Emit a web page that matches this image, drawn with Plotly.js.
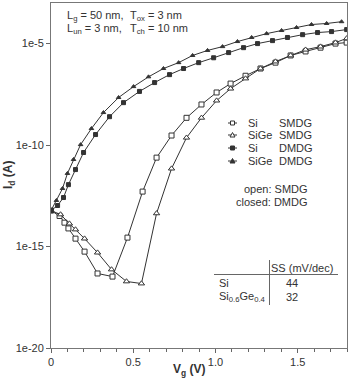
<!DOCTYPE html>
<html>
<head>
<meta charset="utf-8">
<script src="https://cdn.plot.ly/plotly-3.0.1.min.js"></script>
<style>
  body { margin: 0; background: #fff; }
  #chart { width: 350px; height: 379px; }
</style>
</head>
<body>
<div id="chart"></div>
<script>
// Gate voltage (V) and drain current (A)
const vSiSMDG = [0, 0.052, 0.082, 0.106, 0.149, 0.204, 0.283, 0.374, 0.465, 0.557, 0.642, 0.733, 0.824, 0.915, 1.007, 1.092, 1.183, 1.274, 1.365, 1.457, 1.548, 1.639, 1.730, 1.798];
const iSiSMDG = [5.9e-14, 3.2e-14, 1.5e-14, 7.8e-15, 2.45e-15, 5.6e-16, 4.7e-17, 3.3e-17, 2.75e-15, 5.1e-13, 2.4e-11, 2.95e-10, 2.2e-9, 1.0e-8, 3.9e-8, 1.07e-7, 2.6e-7, 5.9e-7, 1.15e-6, 2.6e-6, 4.1e-6, 6.3e-6, 1.0e-5, 1.12e-5];

const vSiGeSMDG = [0, 0.058, 0.112, 0.149, 0.204, 0.283, 0.368, 0.459, 0.550, 0.642, 0.733, 0.824, 0.915, 1.007, 1.092, 1.183, 1.274, 1.365, 1.457, 1.548, 1.639, 1.730, 1.798];
const iSiGeSMDG = [5.9e-14, 3.8e-14, 1.35e-14, 6.9e-15, 2.45e-15, 5.0e-16, 7.4e-17, 1.9e-17, 1.5e-17, 4.3e-14, 6.9e-12, 2.3e-10, 2.2e-9, 1.55e-8, 6.0e-8, 1.9e-7, 5.9e-7, 1.3e-6, 2.6e-6, 5.0e-6, 7.1e-6, 1.12e-5, 1.8e-5];

const vSiDMDG = [0, 0.040, 0.076, 0.106, 0.149, 0.198, 0.271, 0.356, 0.441, 0.538, 0.630, 0.721, 0.806, 0.898, 0.989, 1.080, 1.171, 1.256, 1.347, 1.438, 1.530, 1.621, 1.706, 1.798];
const iSiDMDG = [5.9e-14, 1.05e-13, 2.6e-13, 1.12e-12, 6.2e-12, 4.3e-11, 3.3e-10, 2.5e-9, 1.23e-8, 4.4e-8, 1.2e-7, 2.95e-7, 5.9e-7, 1.15e-6, 2.0e-6, 3.6e-6, 6.3e-6, 1.0e-5, 1.4e-5, 2.0e-5, 2.75e-5, 3.5e-5, 3.9e-5, 4.9e-5];

const vSiGeDMDG = [0, 0.033, 0.070, 0.100, 0.137, 0.180, 0.246, 0.319, 0.411, 0.502, 0.593, 0.684, 0.776, 0.861, 0.952, 1.043, 1.134, 1.220, 1.311, 1.402, 1.493, 1.584, 1.676, 1.767];
const iSiGeDMDG = [5.9e-14, 1.86e-13, 7.2e-13, 4.0e-12, 1.95e-11, 1.05e-10, 6.5e-10, 4.0e-9, 2.2e-8, 7.6e-8, 2.3e-7, 5.9e-7, 1.15e-6, 2.6e-6, 4.6e-6, 7.1e-6, 1.26e-5, 2.0e-5, 3.1e-5, 4.4e-5, 6.2e-5, 8.7e-5, 9.8e-5, 1.2e-4];

const yTickVals = [1e-20, 1e-15, 1e-10, 1e-5];
const yTickText = ['1e-20', '1e-15', '1e-10', '1e-5'];
const xTickVals = [0, 0.5, 1.0, 1.5];
const xTickText = ['0', '0.5', '1.0', '1.5'];

const legendNames = ['Si', 'SiGe', 'Si', 'SiGe'];
const legendTypes = ['SMDG', 'SMDG', 'DMDG', 'DMDG'];
const ssMaterials = ['Si', 'Si<sub>0.6</sub>Ge<sub>0.4</sub>'];
const ssValues = ['44', '32'];

const ink = '#333';
const font = 'Liberation Sans, Arial, sans-serif';

// plot area in pixels, used to place the annotations
const L = 51, T = 3, W = 296, H = 345;
const px = x => (x - L) / W;
const py = y => (T + H - y) / H;

// open symbols: white fill with a dark outline
function curve(x, y, symbol, open, size) {
    return {
        x: x, y: y, type: 'scatter', mode: 'lines+markers',
        line: { color: ink, width: 1 },
        marker: { symbol: symbol, size: size, color: open ? '#fff' : ink,
                  line: { color: ink, width: 1 } },
        showlegend: false, hoverinfo: 'skip'
    };
}

const traces = [
    curve(vSiSMDG, iSiSMDG, 'square', true, 5),
    curve(vSiGeSMDG, iSiGeSMDG, 'triangle-up', true, 5.5),
    curve(vSiDMDG, iSiDMDG, 'square', false, 4),
    curve(vSiGeDMDG, iSiGeDMDG, 'triangle-up', false, 4)
];

const annotations = [];
const shapes = [];
function text(t, x, y, anchor, size) {
    annotations.push({ text: t, x: px(x), y: py(y), xref: 'paper', yref: 'paper',
        xanchor: anchor, yanchor: 'middle', showarrow: false,
        font: { family: font, size: size || 11, color: ink } });
}

// device parameters
text('L<sub>g</sub> = 50 nm,', 65, 16, 'left');
text('T<sub>ox</sub> = 3 nm', 128, 16, 'left');
text('L<sub>un</sub> = 3 nm,', 65, 29, 'left');
text('T<sub>ch</sub> = 10 nm', 128, 29, 'left');

// hand-made legend
const rowY = [123, 135, 148, 161];
rowY.forEach((y, i) => {
    shapes.push({ type: 'line', xref: 'paper', yref: 'paper', x0: px(228), x1: px(237), y0: py(y), y1: py(y),
        line: { color: ink, width: 1 } });
    const fill = i < 2 ? '#fff' : ink;
    if (i % 2 === 0) {
        shapes.push({ type: 'rect', xref: 'paper', yref: 'paper', x0: px(230.5), x1: px(234.5),
            y0: py(y + 2), y1: py(y - 2), fillcolor: fill, line: { color: ink, width: 1 } });
    } else {
        shapes.push({ type: 'path', xref: 'paper', yref: 'paper',
            path: `M${px(230)},${py(y + 2)} L${px(235)},${py(y + 2)} L${px(232.5)},${py(y - 2.5)} Z`,
            fillcolor: fill, line: { color: ink, width: 1 } });
    }
    text(legendNames[i], 246, y, 'left');
    text(legendTypes[i], 277, y, 'left');
});

text('open: SMDG', 310, 189, 'right');
text('closed: DMDG', 310, 202, 'right');

// subthreshold swing table
text('SS (mV/dec)', 269, 268, 'left');
ssMaterials.forEach((m, i) => {
    text(m, 217, 283 + i * 14, 'left');
    text(ssValues[i], 292, 283 + i * 14, 'center');
});
shapes.push({ type: 'line', xref: 'paper', yref: 'paper', x0: px(214), x1: px(338), y0: py(274.5), y1: py(274.5),
    line: { color: '#666', width: 1 } });
shapes.push({ type: 'line', xref: 'paper', yref: 'paper', x0: px(269.5), x1: px(269.5), y0: py(260), y1: py(305),
    line: { color: '#666', width: 1 } });

// axis titles
annotations.push({ text: '<b>I<sub>d</sub> (A)</b>', x: px(9), y: py(175), xref: 'paper', yref: 'paper',
    textangle: -90, showarrow: false, xanchor: 'center', yanchor: 'middle',
    font: { family: font, size: 12, color: ink } });
annotations.push({ text: '<b>V<sub>g</sub> (V)</b>', x: px(189), y: py(370), xref: 'paper', yref: 'paper',
    showarrow: false, xanchor: 'center', yanchor: 'middle',
    font: { family: font, size: 12, color: ink } });

const layout = {
    width: 350, height: 379,
    margin: { l: L, r: 350 - L - W, t: T, b: 379 - T - H },
    paper_bgcolor: '#fff', plot_bgcolor: '#fff',
    font: { family: font, size: 11, color: ink },
    showlegend: false,
    xaxis: {
        range: [0, 1.8], tickmode: 'array', tickvals: xTickVals, ticktext: xTickText,
        ticks: 'outside', ticklen: 4, tickcolor: '#666', showgrid: false, zeroline: false,
        showline: true, linecolor: '#777', linewidth: 1, mirror: true,
        minor: { tickmode: 'linear', tick0: 0, dtick: 0.1, ticks: 'outside', ticklen: 3, tickcolor: '#666', showgrid: false },
        tickfont: { size: 11, color: ink }
    },
    yaxis: {
        type: 'log', range: [-20, -3], tickmode: 'array', tickvals: yTickVals, ticktext: yTickText,
        ticks: 'outside', ticklen: 4, tickcolor: '#666', showgrid: false, zeroline: false,
        showline: true, linecolor: '#777', linewidth: 1, mirror: true,
        tickfont: { size: 11, color: ink }
    },
    annotations: annotations,
    shapes: shapes
};

Plotly.newPlot('chart', traces, layout, { staticPlot: true, displayModeBar: false });
</script>
</body>
</html>
